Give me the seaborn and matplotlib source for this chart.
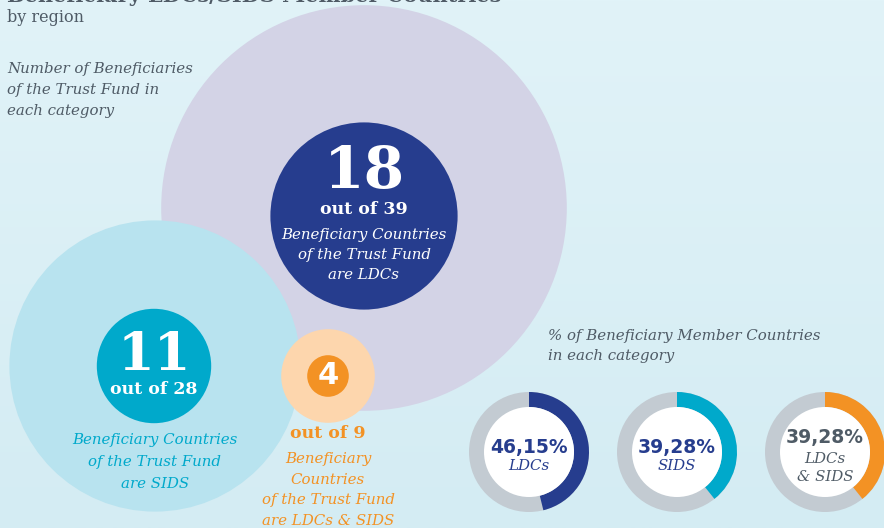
"""Beneficiary LDCs/SIDS member countries infographic: nested circles + share donuts."""

import matplotlib.pyplot as plt
import numpy as np
import pandas as pd
import seaborn as sns
from matplotlib.patches import Circle, Wedge

CATEGORIES = ["LDCs", "SIDS", "LDCs & SIDS"]
BENEFICIARIES = [18, 11, 4]
MEMBERS = [39, 28, 9]
SHARE_VALUES = [46.15, 39.28, 39.28]
SHARE_LABELS = ["46,15%", "39,28%", "39,28%"]
SHARE_SUBLABELS = ["LDCs", "SIDS", "LDCs\n& SIDS"]

W, H = 884, 528
PX_PER_UNIT = 5.2  # circle radius per country

# layout in pixel coordinates (y down)
CIRCLE_CENTERS = {"LDCs": (364, 208), "SIDS": (155, 366), "LDCs & SIDS": (328, 376)}
INNER_CENTERS = {"LDCs": (364, 216), "SIDS": (154, 366), "LDCs & SIDS": (328, 376)}
DONUT_X = [529, 677, 825]
DONUT_Y = 452

OUTER_COL = {"LDCs": "#d3d3e6", "SIDS": "#b8e3ef", "LDCs & SIDS": "#fdd6ad"}
INNER_COL = {"LDCs": "#263d8e", "SIDS": "#00a9cb", "LDCs & SIDS": "#f39224"}
GREY = "#4f5b66"
RING_GREY = "#c3cbd2"
ITAL = 10.8


def main() -> None:
    sns.set_theme(style="white")
    plt.rcParams["font.family"] = ["DejaVu Serif", "DejaVu Sans"]

    df = pd.DataFrame({"category": CATEGORIES, "beneficiaries": BENEFICIARIES,
                       "members": MEMBERS, "share": SHARE_VALUES})

    fig = plt.figure(figsize=(W / 100, H / 100), dpi=100)
    ax = fig.add_axes([0, 0, 1, 1])
    ax.set_xlim(0, W)
    ax.set_ylim(H, 0)
    ax.set_axis_off()

    # soft background gradient
    grad = np.linspace(0, 1, 256).reshape(-1, 1)
    ax.imshow(grad, extent=(0, W, H, 0), aspect="auto", zorder=0,
              cmap=sns.blend_palette(["#e1f3f8", "#d4ecf3"], as_cmap=True))

    # nested circles: big = members, small = beneficiaries
    for i, row in df.iterrows():
        cat = row["category"]
        ax.add_patch(Circle(CIRCLE_CENTERS[cat], row["members"] * PX_PER_UNIT,
                            color=OUTER_COL[cat], lw=0, zorder=1 + i))
    for i, row in df.iterrows():
        cat = row["category"]
        ax.add_patch(Circle(INNER_CENTERS[cat], row["beneficiaries"] * PX_PER_UNIT,
                            color=INNER_COL[cat], lw=0, zorder=5))

    # title (cut at top edge, as in the source) and intro texts
    ax.text(7, 2, "Beneficiary LDCs/SIDS Member Countries", fontsize=15,
            fontweight="bold", color=GREY, va="baseline", ha="left", zorder=10)
    ax.text(7, 17, "by region", fontsize=11.5, color=GREY, va="center", zorder=10)
    ax.text(7, 90, "Number of Beneficiaries\nof the Trust Fund in\neach category",
            fontsize=ITAL, style="italic", color=GREY, va="center", linespacing=1.6, zorder=10)
    ax.text(548, 346, "% of Beneficiary Member Countries\nin each category",
            fontsize=ITAL, style="italic", color=GREY, va="center", linespacing=1.6, zorder=10)

    # LDCs
    cx, cy = INNER_CENTERS["LDCs"]
    ax.text(cx, 172, str(BENEFICIARIES[0]), fontsize=42, fontweight="bold",
            color="white", ha="center", va="center", zorder=10)
    ax.text(cx, 210, f"out of {MEMBERS[0]}", fontsize=12.5, fontweight="bold",
            color="white", ha="center", va="center", zorder=10)
    ax.text(cx, 255, "Beneficiary Countries\nof the Trust Fund\nare LDCs", fontsize=ITAL,
            style="italic", color="white", ha="center", va="center", linespacing=1.55, zorder=10)

    # SIDS
    cx, cy = INNER_CENTERS["SIDS"]
    ax.text(cx, 355, str(BENEFICIARIES[1]), fontsize=38, fontweight="bold",
            color="white", ha="center", va="center", zorder=10)
    ax.text(cx, 389, f"out of {MEMBERS[1]}", fontsize=12.5, fontweight="bold",
            color="white", ha="center", va="center", zorder=10)
    ax.text(cx + 1, 462, "Beneficiary Countries\nof the Trust Fund\nare SIDS", fontsize=ITAL,
            style="italic", color=INNER_COL["SIDS"], ha="center", va="center",
            linespacing=1.75, zorder=10)

    # LDCs & SIDS
    cx, cy = INNER_CENTERS["LDCs & SIDS"]
    ax.text(cx, cy, str(BENEFICIARIES[2]), fontsize=22, fontweight="bold",
            color="white", ha="center", va="center", family="DejaVu Sans", zorder=10)
    ax.text(cx, 434, f"out of {MEMBERS[2]}", fontsize=12.5, fontweight="bold",
            color=INNER_COL["LDCs & SIDS"], ha="center", va="center", zorder=10)
    ax.text(cx, 490, "Beneficiary\nCountries\nof the Trust Fund\nare LDCs & SIDS", fontsize=ITAL,
            style="italic", color=INNER_COL["LDCs & SIDS"], ha="center", va="center",
            linespacing=1.6, zorder=10)

    # donuts: share of beneficiary member countries
    r_out, ring = 60, 15
    for i, row in df.iterrows():
        cat = row["category"]
        x = DONUT_X[i]
        end = -90 + 360 * row["share"] / 100
        ax.add_patch(Circle((x, DONUT_Y), r_out, color=RING_GREY, lw=0, zorder=6))
        ax.add_patch(Wedge((x, DONUT_Y), r_out, -90, end, width=ring,
                           color=INNER_COL[cat], lw=0, zorder=7))
        ax.add_patch(Circle((x, DONUT_Y), r_out - ring, color="white", lw=0, zorder=8))
        txt_col = INNER_COL["LDCs"] if i < 2 else GREY
        top = 447 if i < 2 else 437
        ax.text(x, top, SHARE_LABELS[i], fontsize=13.5, fontweight="bold", color=txt_col,
                family="DejaVu Sans", ha="center", va="center", zorder=10)
        ax.text(x, top + 19 if i < 2 else top + 31, SHARE_SUBLABELS[i], fontsize=ITAL,
                style="italic", color=txt_col, ha="center", va="center",
                linespacing=1.45, zorder=10)

    fig.savefig("out.png", dpi=100)


if __name__ == "__main__":
    main()
